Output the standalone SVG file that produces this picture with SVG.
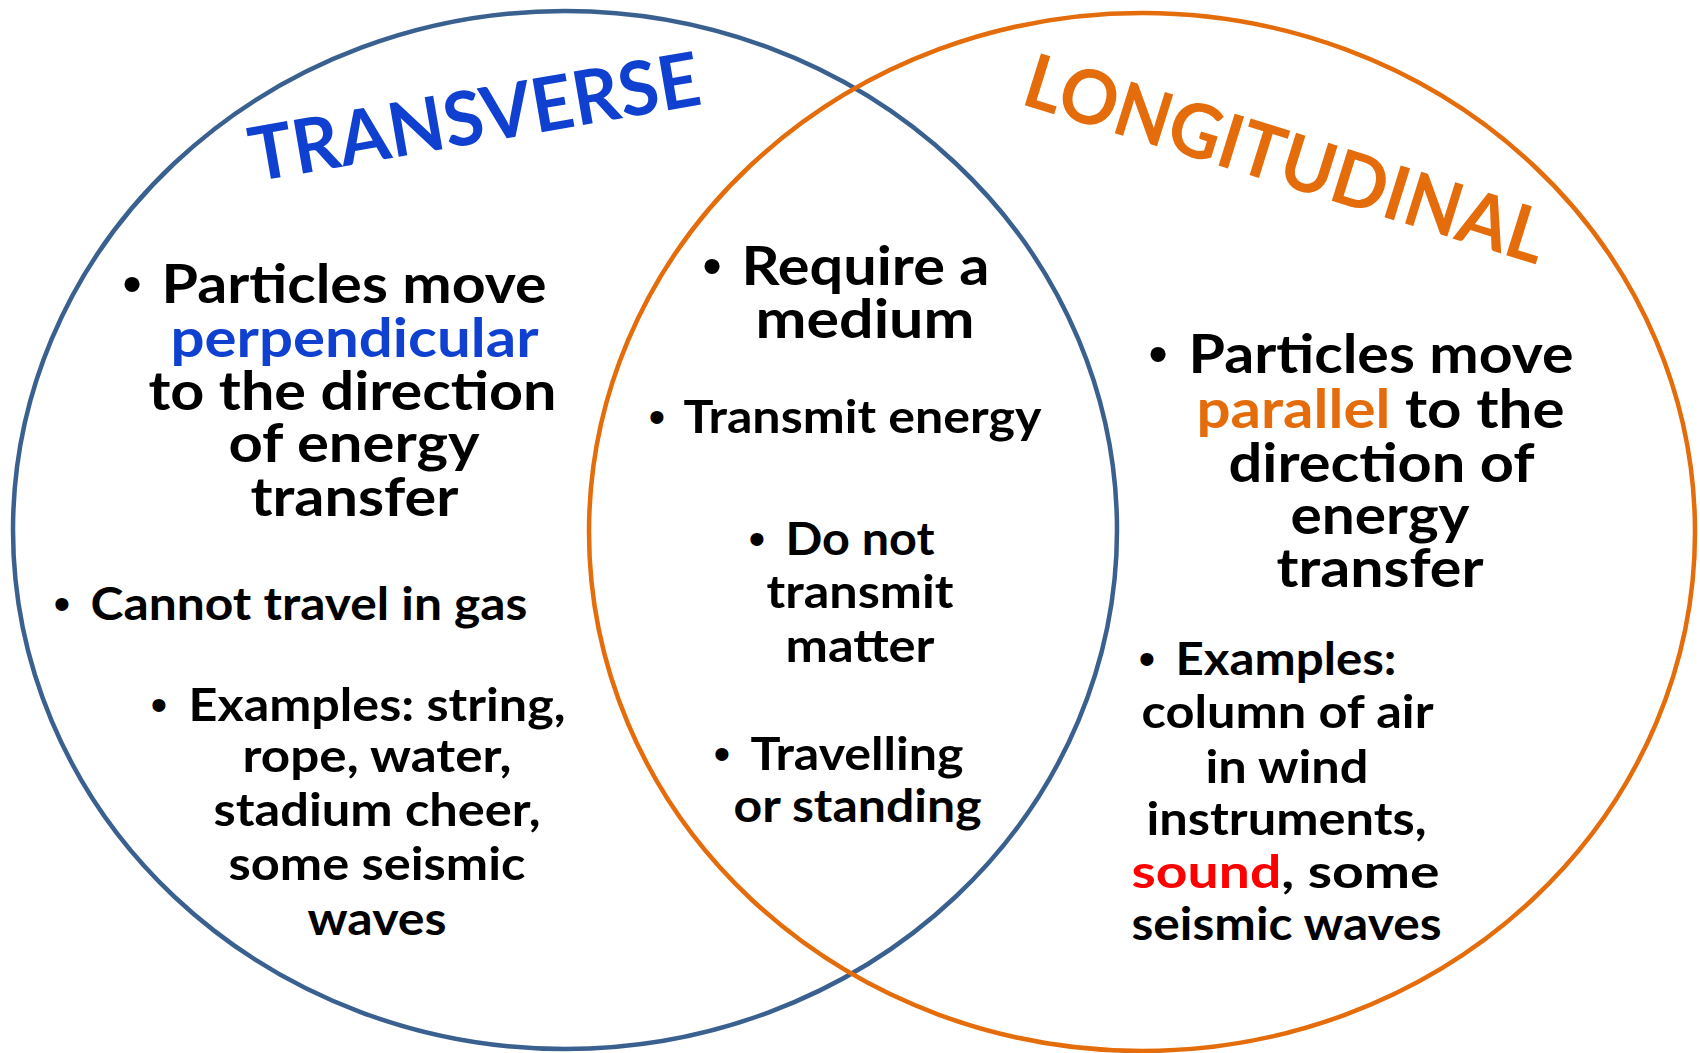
<svg xmlns="http://www.w3.org/2000/svg" width="1700" height="1053" viewBox="0 0 1700 1053">
<style>
.t{font-family:Lato,"Liberation Sans",sans-serif;font-weight:700;text-anchor:middle;fill:#000}
.big{font-size:53px}
.med{font-size:46px}
.bul{font-family:"Liberation Sans",Arial,sans-serif;text-anchor:middle;fill:#000}
.bb{font-size:56px}
.bm{font-size:48px}
.title{font-family:Lato,"Liberation Sans",sans-serif;font-weight:700;text-anchor:middle;font-size:75px}
.blue{fill:#1040D0}
.orange{fill:#E46C0A}
.red{fill:#FF0000}
.ring{fill:none;stroke-width:4.5}
</style>
<rect x="0" y="0" width="1700" height="1053" fill="#fff"/>
<g id="transverse-circle">
<ellipse class="ring" cx="565" cy="530" rx="552" ry="519" stroke="#3A6090"/>
</g>
<g id="longitudinal-circle">
<ellipse class="ring" cx="1142" cy="532" rx="553" ry="519" stroke="#E46C0A"/>
</g>
<g id="transverse">
<text class="title blue" x="479" y="143" textLength="456" lengthAdjust="spacingAndGlyphs" transform="rotate(-9.8 479 143)">TRANSVERSE</text>
<text class="bul bb" x="132" y="303">•</text>
<text class="t big" x="354" y="303" textLength="385" lengthAdjust="spacingAndGlyphs">Particles move</text>
<text class="t big blue" x="354.5" y="357" textLength="368" lengthAdjust="spacingAndGlyphs">perpendicular</text>
<text class="t big" x="352.5" y="410" textLength="408" lengthAdjust="spacingAndGlyphs">to the direction</text>
<text class="t big" x="354" y="462" textLength="251" lengthAdjust="spacingAndGlyphs">of energy</text>
<text class="t big" x="354.5" y="516" textLength="208" lengthAdjust="spacingAndGlyphs">transfer</text>
<text class="bul bm" x="62" y="620">•</text>
<text class="t med" x="309" y="620" textLength="437" lengthAdjust="spacingAndGlyphs">Cannot travel in gas</text>
<text class="bul bm" x="159" y="721">•</text>
<text class="t med" x="377" y="721" textLength="377" lengthAdjust="spacingAndGlyphs">Examples: string,</text>
<text class="t med" x="377" y="772" textLength="269" lengthAdjust="spacingAndGlyphs">rope, water,</text>
<text class="t med" x="377" y="826" textLength="327" lengthAdjust="spacingAndGlyphs">stadium cheer,</text>
<text class="t med" x="377" y="880" textLength="297" lengthAdjust="spacingAndGlyphs">some seismic</text>
<text class="t med" x="377" y="935" textLength="139" lengthAdjust="spacingAndGlyphs">waves</text>
</g>
<g id="both">
<text class="bul bb" x="712" y="285">•</text>
<text class="t big" x="865.5" y="285" textLength="248" lengthAdjust="spacingAndGlyphs">Require a</text>
<text class="t big" x="865" y="338" textLength="219" lengthAdjust="spacingAndGlyphs">medium</text>
<text class="bul bm" x="657" y="433">•</text>
<text class="t med" x="862.5" y="433" textLength="358" lengthAdjust="spacingAndGlyphs">Transmit energy</text>
<text class="bul bm" x="757" y="555">•</text>
<text class="t med" x="860" y="555" textLength="149" lengthAdjust="spacingAndGlyphs">Do not</text>
<text class="t med" x="860" y="608" textLength="187" lengthAdjust="spacingAndGlyphs">transmit</text>
<text class="t med" x="860" y="662" textLength="149" lengthAdjust="spacingAndGlyphs">matter</text>
<text class="bul bm" x="722" y="770">•</text>
<text class="t med" x="857" y="770" textLength="213" lengthAdjust="spacingAndGlyphs">Travelling</text>
<text class="t med" x="857.5" y="822" textLength="248" lengthAdjust="spacingAndGlyphs">or standing</text>
</g>
<g id="longitudinal">
<text class="title orange" x="1278" y="184" textLength="542" lengthAdjust="spacingAndGlyphs" transform="rotate(17.3 1278 184)">LONGITUDINAL</text>
<text class="bul bb" x="1158" y="373">•</text>
<text class="t big" x="1381" y="373" textLength="385" lengthAdjust="spacingAndGlyphs">Particles move</text>
<text class="t big" x="1380.5" y="428" textLength="368" lengthAdjust="spacingAndGlyphs"><tspan class="orange">parallel</tspan> to the</text>
<text class="t big" x="1381.5" y="482" textLength="306" lengthAdjust="spacingAndGlyphs">direction of</text>
<text class="t big" x="1380" y="534" textLength="179" lengthAdjust="spacingAndGlyphs">energy</text>
<text class="t big" x="1380" y="587" textLength="207" lengthAdjust="spacingAndGlyphs">transfer</text>
<text class="bul bm" x="1147" y="675">•</text>
<text class="t med" x="1286" y="675" textLength="221" lengthAdjust="spacingAndGlyphs">Examples:</text>
<text class="t med" x="1287.5" y="728" textLength="292" lengthAdjust="spacingAndGlyphs">column of air</text>
<text class="t med" x="1287" y="783" textLength="163" lengthAdjust="spacingAndGlyphs">in wind</text>
<text class="t med" x="1286.5" y="835" textLength="280" lengthAdjust="spacingAndGlyphs">instruments,</text>
<text class="t med" x="1285.5" y="888" textLength="308" lengthAdjust="spacingAndGlyphs"><tspan class="red">sound</tspan>, some</text>
<text class="t med" x="1286.5" y="940" textLength="310" lengthAdjust="spacingAndGlyphs">seismic waves</text>
</g>
</svg>
